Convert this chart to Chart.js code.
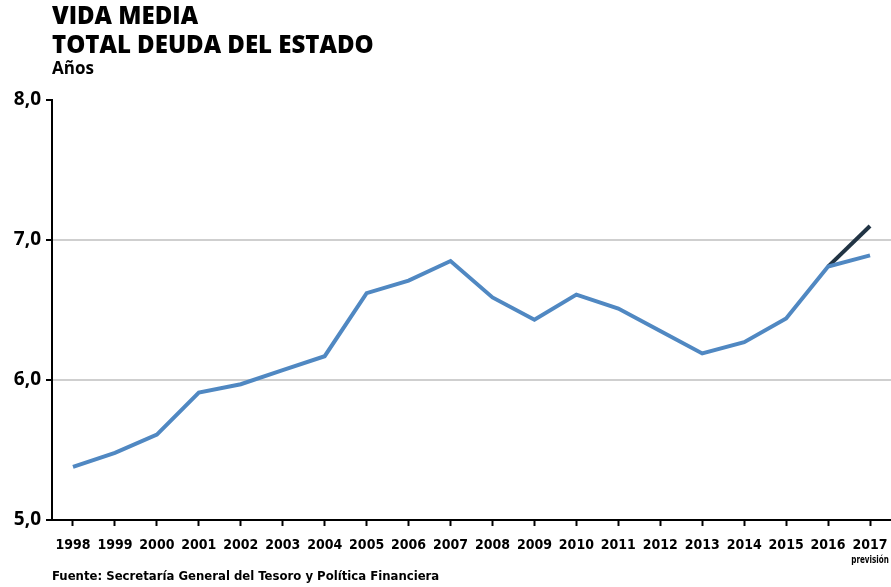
<!DOCTYPE html>
<html>
<head>
<meta charset="utf-8">
<script src="https://cdn.jsdelivr.net/npm/chart.js@4"></script>
<style>
  body { margin: 0; background: #fff; }
  #wrap { position: relative; width: 891px; height: 587px; overflow: hidden; }
  canvas { position: absolute; left: 0; top: 0; }
  .t { position: absolute; left: 52px; font-family: "Open Sans", "DejaVu Sans", sans-serif; font-weight: 800; color: #000; white-space: nowrap; }
  #t1 { top: 1px; font-size: 24px; line-height: 28px; }
  #t2 { top: 30px; font-size: 24px; line-height: 28px; }
  #t3 { top: 58px; font-size: 17px; line-height: 20px; font-weight: 700; }
  #src { position: absolute; left: 52px; top: 568px; font-family: "Liberation Sans Narrow", "DejaVu Sans Condensed", sans-serif; font-weight: 700; font-size: 13px; }
</style>
</head>
<body>
<div id="wrap">
  <canvas id="chart" width="891" height="587"></canvas>
  <div class="t" id="t1">VIDA MEDIA</div>
  <div class="t" id="t2">TOTAL DEUDA DEL ESTADO</div>
  <div class="t" id="t3">Años</div>
  <div id="src">Fuente: Secretaría General del Tesoro y Política Financiera</div>
</div>
<script>
const years = ["1998","1999","2000","2001","2002","2003","2004","2005","2006","2007",
               "2008","2009","2010","2011","2012","2013","2014","2015","2016","2017"];
const vidaMedia = [5.38, 5.48, 5.61, 5.91, 5.97, 6.07, 6.17, 6.62, 6.71, 6.85,
                   6.59, 6.43, 6.61, 6.51, 6.35, 6.19, 6.27, 6.44, 6.81, 6.89];
const prevision = [null, null, null, null, null, null, null, null, null, null,
                   null, null, null, null, null, null, null, null, 6.81, 7.10];
const yTicks = [5, 6, 7, 8];
const notaPrevision = "previsión";

const labelFont = "'Liberation Sans Narrow', 'DejaVu Sans Condensed', sans-serif";

// texto "previsión" debajo del último año (un poco estrechado)
const previsionLabel = {
  id: "previsionLabel",
  afterDraw(chart) {
    const x = chart.scales.x;
    const ctx = chart.ctx;
    ctx.save();
    ctx.translate(x.getPixelForValue(years.length - 1), 555);
    ctx.scale(0.8, 1);
    ctx.font = "bold 10px " + labelFont;
    ctx.fillStyle = "#000";
    ctx.textAlign = "center";
    ctx.textBaseline = "top";
    ctx.fillText(notaPrevision, 0, 0);
    ctx.restore();
  }
};

new Chart(document.getElementById("chart"), {
  type: "line",
  data: {
    labels: years,
    datasets: [
      {
        label: "Vida media",
        data: vidaMedia,
        borderColor: "#5088c2",
        borderWidth: 4,
        pointRadius: 0,
        tension: 0,
        borderJoinStyle: "miter"
      },
      {
        label: "Previsión",
        data: prevision,
        borderColor: "#213444",
        borderWidth: 4,
        pointRadius: 0,
        tension: 0
      }
    ]
  },
  options: {
    responsive: false,
    animation: false,
    layout: { padding: { top: 100, right: 0, left: 0, bottom: 0 } },
    plugins: { legend: { display: false }, tooltip: { enabled: false } },
    scales: {
      x: {
        offset: true,
        afterFit(scale) {
          scale.height = 67;
          scale.paddingLeft = 0;
          scale.paddingRight = 0;
        },
        grid: { offset: false, drawOnChartArea: false, drawTicks: true, tickLength: 6, tickColor: "#000", tickWidth: 2 },
        border: { color: "#000", width: 2 },
        ticks: {
          color: "#000",
          font: { family: labelFont, size: 14, weight: "bold" },
          padding: 11,
          maxRotation: 0,
          autoSkip: false
        }
      },
      y: {
        min: 5,
        max: 8,
        afterFit(scale) {
          scale.width = 52;
          scale.paddingTop = 0;
          scale.paddingBottom = 0;
        },
        afterBuildTicks(scale) { scale.ticks = yTicks.map(v => ({ value: v })); },
        grid: {
          color: ctx => (ctx.tick && (ctx.tick.value === 6 || ctx.tick.value === 7)) ? "#cfcfcf" : "rgba(0,0,0,0)",
          lineWidth: 2,
          drawTicks: true,
          tickLength: 6,
          tickColor: "#000",
          tickWidth: 2
        },
        border: { color: "#000", width: 2 },
        ticks: {
          color: "#000",
          font: { family: "'Open Sans', 'DejaVu Sans', sans-serif", size: 19, weight: "bold" },
          padding: 5,
          callback: v => v.toFixed(1).replace(".", ",")
        }
      }
    }
  },
  plugins: [previsionLabel]
});
</script>
</body>
</html>
